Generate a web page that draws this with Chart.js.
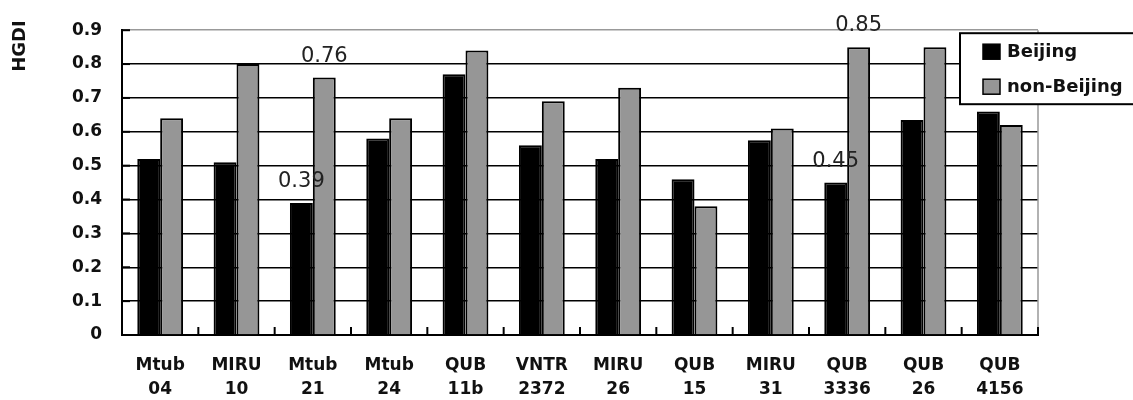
<!DOCTYPE html>
<html>
<head>
<meta charset="utf-8">
<script src="https://cdn.jsdelivr.net/npm/chart.js@4.4.1/dist/chart.umd.min.js"></script>
<style>
  html, body { margin: 0; padding: 0; background: #fff; }
  #wrap { width: 1133px; height: 400px; }
</style>
</head>
<body>
<div id="wrap"><canvas id="c" width="1133" height="400"></canvas></div>
<script>
// VNTR loci (two-line labels)
const loci = [
  ['Mtub', '04'], ['MIRU', '10'], ['Mtub', '21'], ['Mtub', '24'],
  ['QUB', '11b'], ['VNTR', '2372'], ['MIRU', '26'], ['QUB', '15'],
  ['MIRU', '31'], ['QUB', '3336'], ['QUB', '26'], ['QUB', '4156']
];
// Hunter-Gaston discriminatory index per locus
const beijing    = [0.52, 0.51, 0.39, 0.58, 0.77, 0.56, 0.52, 0.46, 0.575, 0.45, 0.635, 0.66];
const nonBeijing = [0.64, 0.80, 0.76, 0.64, 0.84, 0.69, 0.73, 0.38, 0.61, 0.85, 0.85, 0.62];
const yTicks = [0, 0.1, 0.2, 0.3, 0.4, 0.5, 0.6, 0.7, 0.8, 0.9];
// values printed above their bars: [datasetIndex, categoryIndex]
const annotated = [[0, 2], [1, 2], [0, 9], [1, 9]];

const TEXT = '#111';

const decorations = {
  id: 'decorations',
  beforeDatasetsDraw(chart) {
    const { ctx, chartArea: a, scales } = chart;
    const n = chart.data.labels.length;
    const w = (a.right - a.left) / n;
    ctx.save();
    // right frame edge
    ctx.strokeStyle = '#999';
    ctx.lineWidth = 1.5;
    ctx.beginPath();
    ctx.moveTo(a.right, a.top);
    ctx.lineTo(a.right, a.bottom);
    ctx.stroke();
    // inward tick marks at category boundaries
    ctx.strokeStyle = '#000';
    ctx.lineWidth = 2;
    for (let i = 1; i <= n; i++) {
      const x = a.left + i * w;
      ctx.beginPath();
      ctx.moveTo(x, a.bottom);
      ctx.lineTo(x, a.bottom - 8);
      ctx.stroke();
    }
    // inward tick marks on the value axis
    yTicks.forEach(v => {
      const y = scales.y.getPixelForValue(v);
      ctx.beginPath();
      ctx.moveTo(a.left, y);
      ctx.lineTo(a.left + 8, y);
      ctx.stroke();
    });
    ctx.restore();
  },
  afterDraw(chart) {
    const { ctx, chartArea: a } = chart;
    ctx.save();
    // value labels
    ctx.font = '21px "DejaVu Sans"';
    ctx.fillStyle = '#222';
    ctx.textAlign = 'center';
    ctx.textBaseline = 'bottom';
    annotated.forEach(([d, i]) => {
      const el = chart.getDatasetMeta(d).data[i];
      const v = chart.data.datasets[d].data[i];
      ctx.fillText(v.toFixed(2), el.x, el.y - 11);
    });
    // axis title
    ctx.save();
    ctx.translate(20, 46);
    ctx.rotate(-Math.PI / 2);
    ctx.font = 'bold 18px "DejaVu Sans"';
    ctx.fillStyle = TEXT;
    ctx.textAlign = 'center';
    ctx.textBaseline = 'middle';
    ctx.fillText('HGDI', 0, 0);
    ctx.restore();
    // legend box
    const lx = a.right - 78, ly = a.top + 3, lw = 176, lh = 71;
    ctx.fillStyle = '#fff';
    ctx.fillRect(lx, ly, lw, lh);
    ctx.strokeStyle = '#000';
    ctx.lineWidth = 2;
    ctx.strokeRect(lx, ly, lw, lh);
    ctx.font = 'bold 18px "DejaVu Sans"';
    ctx.textAlign = 'left';
    ctx.textBaseline = 'middle';
    chart.data.datasets.forEach((ds, k) => {
      const cy = ly + 19 + k * 35;
      ctx.fillStyle = ds.backgroundColor;
      ctx.fillRect(lx + 23, cy - 8, 17, 15);
      ctx.strokeStyle = '#000';
      ctx.lineWidth = 1.5;
      ctx.strokeRect(lx + 23, cy - 8, 17, 15);
      ctx.fillStyle = TEXT;
      ctx.fillText(ds.label, lx + 47, cy);
    });
    ctx.restore();
  }
};

new Chart(document.getElementById('c'), {
  type: 'bar',
  data: {
    labels: loci,
    datasets: [
      { label: 'Beijing', data: beijing, backgroundColor: '#000', borderColor: '#000', borderWidth: 2 },
      { label: 'non-Beijing', data: nonBeijing, backgroundColor: '#969696', borderColor: '#000', borderWidth: 2 }
    ]
  },
  options: {
    responsive: false,
    animation: false,
    devicePixelRatio: 1,
    layout: { padding: { top: 28, right: 95, left: 0, bottom: 0 } },
    datasets: { bar: { categoryPercentage: 0.6, barPercentage: 1.0, borderSkipped: 'start' } },
    plugins: { legend: { display: false }, tooltip: { enabled: false } },
    scales: {
      x: {
        grid: { display: false, drawTicks: false },
        border: { display: true, color: '#000', width: 2 },
        ticks: { color: TEXT, font: { family: 'DejaVu Sans', weight: 'bold', size: 17, lineHeight: 1.45 }, padding: 18, maxRotation: 0, autoSkip: false },
        afterFit(s) { s.height = 65; }
      },
      y: {
        min: 0, max: 0.9,
        afterBuildTicks(s) { s.ticks = yTicks.map(v => ({ value: v })); },
        grid: {
          drawTicks: false,
          color: c => (c.tick && c.tick.value === 0.9 ? '#999' : '#000'),
          lineWidth: 1.5
        },
        border: { display: true, color: '#000', width: 2 },
        ticks: {
          color: TEXT,
          font: { family: 'DejaVu Sans', weight: 'bold', size: 17 },
          padding: 20,
          callback: v => (v === 0 ? '0' : v.toFixed(1))
        },
        afterFit(s) { s.width = 122; }
      }
    }
  },
  plugins: [decorations]
});
</script>
</body>
</html>
